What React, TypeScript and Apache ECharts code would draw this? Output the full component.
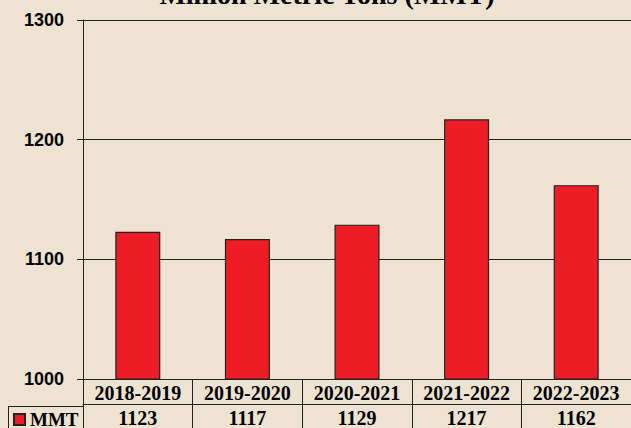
import React, { useEffect, useRef } from "react";
import * as echarts from "echarts";

const categories = ["2018-2019", "2019-2020", "2020-2021", "2021-2022", "2022-2023"];
const values = [1123, 1117, 1129, 1217, 1162];
const seriesName = "MMT";
const titleText = "Million Metric Tons (MMT)";
const yMin = 1000;
const yMax = 1300;
const yStep = 100;

const BG = "#EDE3D0";
const RED = "#EE1C24";
const LINE = "#222222";
const SERIF = "'Liberation Serif', 'Times New Roman', serif";
const SANS = "'Liberation Sans', Arial, sans-serif";

export default function App() {
  const ref = useRef<HTMLDivElement>(null);
  useEffect(() => {
    if (!ref.current) return;
    const chart = echarts.init(ref.current, null, { renderer: "svg" });
    chart.setOption({
      animation: false,
      backgroundColor: BG,
      grid: { left: 83, top: 20, right: -2, bottom: 46.3, containLabel: false },
      legend: {
        show: true,
        left: 13,
        top: 410,
        icon: "rect",
        itemWidth: 11,
        itemHeight: 11,
        itemGap: 0,
        padding: 0,
        textStyle: { fontFamily: SERIF, fontWeight: "bold", fontSize: 19, color: "#000", padding: [0, 0, 0, 0] },
        data: [seriesName],
      },
      xAxis: [
        {
          type: "category",
          data: categories,
          position: "bottom",
          axisLine: { show: true, lineStyle: { color: LINE, width: 1 } },
          axisTick: { show: true, interval: 0, length: 25, lineStyle: { color: LINE, width: 1 } },
          axisLabel: { interval: 0, margin: 4, fontFamily: SERIF, fontWeight: "bold", fontSize: 20, color: "#000" },
          splitLine: { show: false },
        },
        {
          type: "category",
          data: values.map((v) => String(v)),
          position: "bottom",
          offset: 25,
          axisLine: { show: true, lineStyle: { color: LINE, width: 1 } },
          axisTick: { show: true, interval: 0, length: 30, lineStyle: { color: LINE, width: 1 } },
          axisLabel: { interval: 0, margin: 4, fontFamily: SERIF, fontWeight: "bold", fontSize: 20, color: "#000" },
          splitLine: { show: false },
        },
      ],
      yAxis: {
        type: "value",
        min: yMin,
        max: yMax,
        interval: yStep,
        axisLine: { show: true, lineStyle: { color: LINE, width: 1 } },
        axisTick: { show: true, length: 6, lineStyle: { color: LINE, width: 1 } },
        axisLabel: {
          margin: 19,
          formatter: (v: number) => String(v),
          fontFamily: SANS,
          fontWeight: "bold",
          fontSize: 18,
          color: "#000",
        },
        splitLine: { show: true, lineStyle: { color: LINE, width: 1 } },
      },
      graphic: [
        {
          type: "text",
          x: 327,
          y: 8,
          style: {
            text: titleText,
            fontFamily: SERIF,
            fontWeight: "bold",
            fontSize: 28,
            fill: "#000",
            textAlign: "center",
            textVerticalAlign: "bottom",
          },
        },
        { type: "line", shape: { x1: 8, y1: 406.5, x2: 83, y2: 406.5 }, style: { stroke: LINE, lineWidth: 1 } },
        { type: "line", shape: { x1: 8.5, y1: 406.5, x2: 8.5, y2: 430 }, style: { stroke: LINE, lineWidth: 1 } },
      ],
      series: [
        {
          name: seriesName,
          type: "bar",
          data: values,
          barWidth: 45,
          itemStyle: { color: RED, borderColor: LINE, borderWidth: 1.2 },
        },
      ],
    });
    return () => chart.dispose();
  }, []);
  return <div ref={ref} style={{ position: "fixed", left: 0, top: 0, width: 631, height: 428 }} />;
}
